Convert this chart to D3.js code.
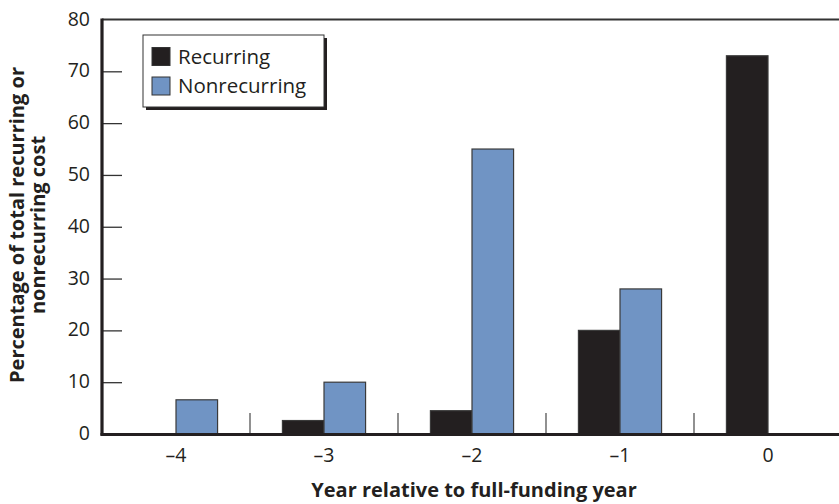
<!DOCTYPE html>
<html><head><meta charset="utf-8">
<script src="https://cdn.jsdelivr.net/npm/d3@7"></script>
<style>body{margin:0;background:#fff}svg{display:block}</style>
</head><body><svg id="c" width="839" height="504"></svg>
<script>
const categories = ["\u20134", "\u20133", "\u20132", "\u20131", "0"];
const seriesNames = ["Recurring", "Nonrecurring"];
const recurring = [0, 2.6, 4.5, 20, 73];
const nonrecurring = [6.6, 10, 55, 28, 0];
const yTicks = [0, 10, 20, 30, 40, 50, 60, 70, 80];
const colors = ["#231f20", "#7094c4"];

const svg = d3.select("#c");
const font = "'Open Sans', 'Noto Sans', sans-serif";
const x = d3.scaleBand().domain(categories).range([102, 842]).padding(0);
const xs = d3.scaleBand().domain(seriesNames).range([0, x.bandwidth()]).paddingInner(0).paddingOuter(0.78);
const y = d3.scaleLinear().domain([0, 80]).range([434, 19.5]);

const data = categories.map((c, i) => ({c, vals: [recurring[i], nonrecurring[i]]}));

// bars
const g = svg.append("g");
data.forEach(d => {
  d.vals.forEach((v, j) => {
    if (v <= 0) return;
    g.append("rect")
      .attr("x", x(d.c) + xs(seriesNames[j]))
      .attr("y", y(v))
      .attr("width", xs.bandwidth())
      .attr("height", y(0) - y(v))
      .attr("fill", colors[j])
      .attr("stroke", "#3a3a3a").attr("stroke-width", 1.2);
  });
});

// top line
svg.append("line").attr("x1", 102).attr("x2", 839).attr("y1", y(80)).attr("y2", y(80))
  .attr("stroke", "#333").attr("stroke-width", 2);

// y axis
const yAxis = d3.axisRight(y).tickValues(yTicks.filter(t => t > 0 && t < 80)).tickSize(20).tickFormat("");
const ya = svg.append("g").attr("transform", "translate(102,0)").call(yAxis);
ya.select(".domain").remove();
ya.selectAll(".tick line").attr("stroke", "#333").attr("stroke-width", 1.3);
svg.append("g").selectAll("text").data(yTicks).join("text")
  .attr("x", 90).attr("y", d => y(d) - 1).attr("dy", "0.36em")
  .attr("text-anchor", "end").attr("font-family", font).attr("font-size", 19.5).attr("fill", "#231f20")
  .text(d => d);
svg.append("line").attr("x1", 102).attr("x2", 102).attr("y1", y(80) - 1).attr("y2", 435.5)
  .attr("stroke", "#231f20").attr("stroke-width", 3.2);

// x axis separators
const seps = categories.slice(1).map(c => x(c));
svg.append("g").selectAll("line").data(seps).join("line")
  .attr("x1", d => d).attr("x2", d => d).attr("y1", 413).attr("y2", 434)
  .attr("stroke", "#555").attr("stroke-width", 1.3);
svg.append("line").attr("x1", 100.5).attr("x2", 839).attr("y1", 434.5).attr("y2", 434.5)
  .attr("stroke", "#231f20").attr("stroke-width", 3.2);
const xAxis = d3.axisBottom(x).tickSize(0).tickPadding(0);
const xa = svg.append("g").attr("transform", "translate(0,455)").call(xAxis);
xa.select(".domain").remove();
xa.selectAll("text").attr("font-family", font).attr("font-size", 19.5).attr("fill", "#231f20").attr("dy", "0.35em");

// axis titles
svg.append("text").attr("x", 474).attr("y", 497).attr("text-anchor", "middle")
  .attr("font-family", font).attr("font-weight", "bold").attr("font-size", 20).attr("fill", "#231f20")
  .text("Year relative to full-funding year");
const yt = svg.append("text").attr("transform", "translate(0,225) rotate(-90)")
  .attr("text-anchor", "middle").attr("font-family", font).attr("font-weight", "bold")
  .attr("font-size", 20).attr("fill", "#231f20");
yt.append("tspan").attr("x", 0).attr("y", 24).text("Percentage of total recurring or");
yt.append("tspan").attr("x", 0).attr("y", 45).text("nonrecurring cost");

// legend
const lg = svg.append("g");
lg.append("rect").attr("x", 146).attr("y", 38).attr("width", 181).attr("height", 72).attr("fill", "#231f20");
lg.append("rect").attr("x", 143).attr("y", 35).attr("width", 181).attr("height", 72)
  .attr("fill", "#fff").attr("stroke", "#333").attr("stroke-width", 1);
seriesNames.forEach((s, i) => {
  lg.append("rect").attr("x", 152).attr("y", 47.5 + i * 29.5).attr("width", 18).attr("height", 18)
    .attr("fill", colors[i]).attr("stroke", "#333").attr("stroke-width", 1);
  lg.append("text").attr("x", 178).attr("y", 56.5 + i * 29.5).attr("dy", "0.36em")
    .attr("font-family", font).attr("font-size", 20.5).attr("fill", "#231f20").text(s);
});
</script></body></html>
